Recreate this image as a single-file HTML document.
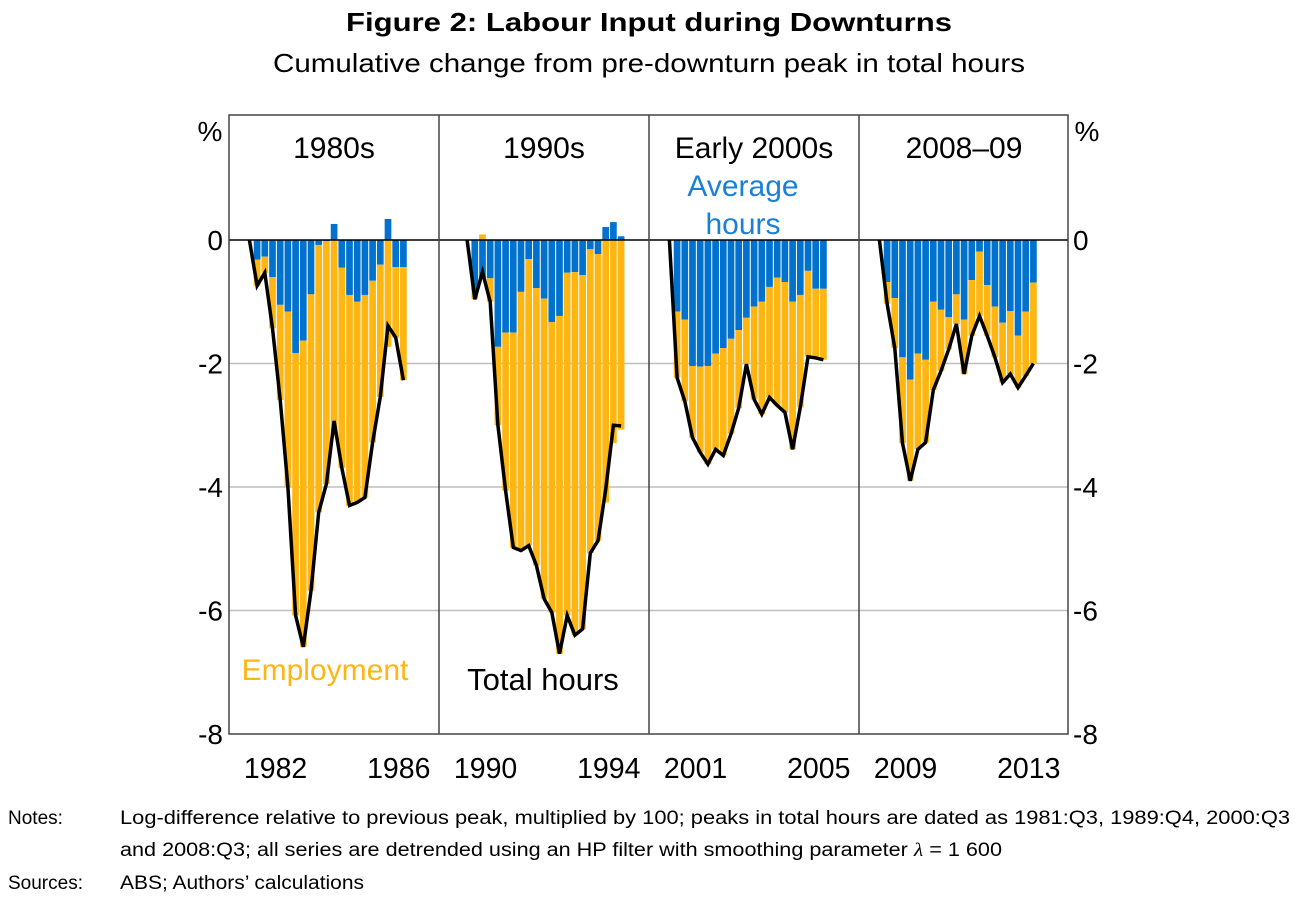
<!DOCTYPE html>
<html><head><meta charset="utf-8"><style>
html,body{margin:0;padding:0;background:#fff;}
svg{display:block;font-family:"Liberation Sans",Arial,sans-serif;}
</style></head><body>
<svg id="chart" width="1298" height="897" viewBox="0 0 1298 897" xmlns="http://www.w3.org/2000/svg">
<text x="649" y="31" text-anchor="middle" font-size="26" font-weight="bold" textLength="606" lengthAdjust="spacingAndGlyphs">Figure 2: Labour Input during Downturns</text>
<text x="649" y="72" text-anchor="middle" font-size="26" textLength="752" lengthAdjust="spacingAndGlyphs">Cumulative change from pre-downturn peak in total hours</text>
<g id="grid"></g><g id="bars"></g><g id="lines"></g><g id="frame"></g><g id="labels"></g>
<text x="743" y="196" text-anchor="middle" font-size="30" fill="#1a7fd6">Average</text>
<text x="743" y="234" text-anchor="middle" font-size="30" fill="#1a7fd6">hours</text>
<text x="325" y="680" text-anchor="middle" font-size="30" fill="#ffb612">Employment</text>
<text x="543" y="690" text-anchor="middle" font-size="31" fill="#000">Total hours</text>
<text x="8" y="824" font-size="19">Notes:</text>
<text x="120" y="824" font-size="19" textLength="1170" lengthAdjust="spacingAndGlyphs">Log-difference relative to previous peak, multiplied by 100; peaks in total hours are dated as 1981:Q3, 1989:Q4, 2000:Q3</text>
<text x="120" y="856" font-size="19" textLength="882" lengthAdjust="spacingAndGlyphs">and 2008:Q3; all series are detrended using an HP filter with smoothing parameter <tspan font-style="italic" font-family="Liberation Serif">λ</tspan> = 1 600</text>
<text x="8" y="889" font-size="19">Sources:</text>
<text x="120" y="889" font-size="19" textLength="244" lengthAdjust="spacingAndGlyphs">ABS; Authors’ calculations</text>
</svg>
<script>
const panelTitles = ["1980s","1990s","Early 2000s","2008–09"];
const peakDates = [1981.5, 1989.75, 2000.5, 2008.5];
const yearTicks = [[1982,1986],[1990,1994],[2001,2005],[2009,2013]];
const yTicks = [0,-2,-4,-6,-8];
const hours1 = [-0.32,-0.27,-0.60,-1.05,-1.16,-1.83,-1.63,-0.88,-0.08,-0.02,0.26,-0.45,-0.89,-1.00,-0.89,-0.66,-0.40,0.34,-0.44,-0.44];
const emp1 = [-0.42,-0.26,-0.83,-1.54,-2.84,-4.25,-4.96,-4.80,-4.33,-3.93,-3.19,-3.24,-3.41,-3.25,-3.28,-2.62,-2.14,-1.73,-1.14,-1.83];
const hours2 = [-0.80,-0.61,-0.62,-1.73,-1.50,-1.50,-0.84,-0.31,-0.78,-0.95,-1.33,-1.23,-0.53,-0.52,-0.57,-0.15,-0.23,0.21,0.29,0.06];
const emp2 = [-0.16,0.09,-0.38,-1.27,-2.56,-3.48,-4.19,-4.64,-4.49,-4.86,-4.70,-5.47,-5.55,-5.88,-5.73,-4.92,-4.64,-4.25,-3.29,-3.07];
const hours3 = [-1.16,-1.29,-2.04,-2.05,-2.04,-1.84,-1.75,-1.60,-1.46,-1.26,-1.08,-1.00,-0.76,-0.61,-0.68,-1.00,-0.89,-0.50,-0.79,-0.79];
const emp3 = [-1.07,-1.32,-1.16,-1.39,-1.59,-1.55,-1.74,-1.54,-1.26,-0.75,-1.50,-1.82,-1.79,-2.07,-2.11,-2.39,-1.82,-1.39,-1.12,-1.15];
const hours4 = [-0.68,-0.94,-1.90,-2.26,-1.84,-1.94,-1.00,-1.13,-1.25,-0.88,-1.29,-0.65,-0.19,-0.73,-1.08,-1.34,-1.15,-1.55,-1.16,-0.69];
const emp4 = [-0.35,-0.81,-1.39,-1.64,-1.55,-1.34,-1.43,-0.99,-0.52,-0.48,-0.88,-0.90,-1.04,-0.82,-0.82,-0.97,-1.02,-0.84,-1.04,-1.31];
const hoursAll = [hours1,hours2,hours3,hours4];
const empAll = [emp1,emp2,emp3,emp4];

const NS="http://www.w3.org/2000/svg";
const L=229,R=1068,T=115,B=734;
const panelLefts=[229,439,649,859];
const slot=7.7;
function yS(v){return 240 - v*61.75;}
function xS(p,t){return panelLefts[p]+5+(t-Math.floor(peakDates[p]))*4*slot;}
function mk(tag,attrs,parent){const e=document.createElementNS(NS,tag);for(const k in attrs)e.setAttribute(k,attrs[k]);parent.appendChild(e);return e;}
const grid=document.getElementById('grid'),bars=document.getElementById('bars'),lines=document.getElementById('lines'),frame=document.getElementById('frame'),labels=document.getElementById('labels');

yTicks.forEach(v=>{
  if(v<0&&v>-8){const g=mk('line',{x1:L,x2:R,y1:yS(v),y2:yS(v),stroke:'#bfbfbf','stroke-width':1.5},grid);
  
  }
  const a=mk('text',{x:223,y:yS(v)+10,'text-anchor':'end','font-size':28},labels);a.textContent=v;
  
  
  const b=mk('text',{x:1073,y:yS(v)+10,'font-size':28},labels);b.textContent=v;
  
  
});
const pl=mk('text',{x:210,y:141,'text-anchor':'middle','font-size':28},labels);pl.textContent='%';


const pr=mk('text',{x:1087,y:141,'text-anchor':'middle','font-size':28},labels);pr.textContent='%';



for(let p=0;p<4;p++){
  const h=hoursAll[p],e=empAll[p],t0=peakDates[p];
  const pts=[[xS(p,t0),yS(0)]];
  for(let i=0;i<h.length;i++){
    const t=t0+(i+1)/4,cx=xS(p,t),w=6.7;
    let pos=0,neg=0;
    [[h[i],'#0072ce','hours-bar'],[e[i],'#ffb612','employment-bar']].forEach(([v,c,n])=>{
      let y0,y1;
      if(v>=0){y0=pos;y1=pos+v;pos=y1;}else{y0=neg;y1=neg+v;neg=y1;}
      const r=mk('rect',{x:cx-w/2,y:Math.min(yS(y0),yS(y1)),width:w,height:Math.abs(yS(y0)-yS(y1)),fill:c},bars);
      
      
    });
    pts.push([cx,yS(h[i]+e[i])]);
  }
  const pl2=mk('polyline',{points:pts.map(q=>q.join(',')).join(' '),fill:'none',stroke:'#000','stroke-width':3.5,'stroke-linejoin':'miter'},lines);
  
  
  const tt=mk('text',{x:panelLefts[p]+105,y:158,'text-anchor':'middle','font-size':30},labels);tt.textContent=panelTitles[p];
  
  
  yearTicks[p].forEach(yr=>{
    const tx=mk('text',{x:xS(p,yr+0.35),y:778,'text-anchor':'middle','font-size':28.5},labels);tx.textContent=yr;
    
    
  });
}
const z=mk('line',{x1:L,x2:R,y1:240,y2:240,stroke:'#000','stroke-width':1.5},frame);


const fr=mk('rect',{x:L,y:T,width:R-L,height:B-T,fill:'none',stroke:'#444','stroke-width':1.5},frame);


[439,649,859].forEach(x=>{
  const d=mk('line',{x1:x,x2:x,y1:T,y2:B,stroke:'#444','stroke-width':1.5},frame);
  
  
});
</script>
</body></html>
